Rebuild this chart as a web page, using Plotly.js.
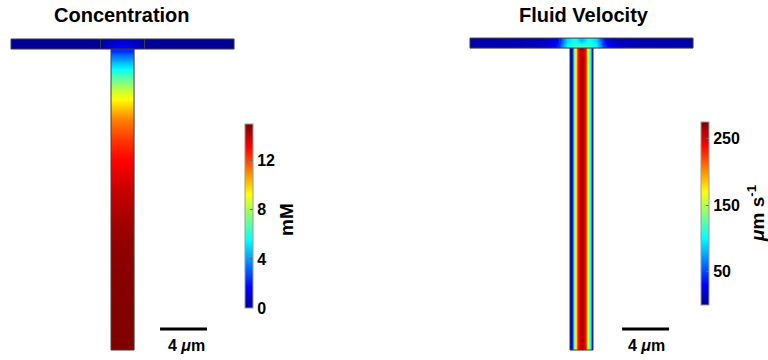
<!DOCTYPE html>
<html><head><meta charset="utf-8">
<script src="https://cdn.plot.ly/plotly-3.0.1.min.js"></script>
<style>html,body{margin:0;padding:0;background:#fff}#chart{width:768px;height:360px}</style>
</head><body><div id="chart"></div>
<script>
// ---------------- data ----------------
// Concentration (mM) in the horizontal channel, positions in µm from the channel centre
const concBarX      = [-9.5, -2.6, -1.87, -1.3, -0.7, 0, 0.7, 1.3, 1.87, 2.6, 9.5];
const concBarTop    = [0.1, 0.1, 0.2, 0.5, 0.8, 0.9, 0.8, 0.5, 0.2, 0.1, 0.1];
const concBarBottom = [0.1, 0.1, 0.3, 0.9, 1.4, 1.7, 1.4, 0.9, 0.3, 0.1, 0.1];
// Concentration (mM) down the vertical channel, depth in µm below the junction
const concStemDepth = [0, 0.77, 1.53, 2.64, 4.09, 6.04, 7.74, 9.45, 11.6, 13.7, 16.3, 18.9, 25.6];
const concStem      = [2.3, 3.8, 5.4, 7.3, 9.3, 11.2, 12.3, 13.1, 13.8, 14.3, 14.7, 14.9, 15.0];
// Fluid velocity (µm/s) in the horizontal channel
const velBarX      = [-9.5, -4, -2.5, -1.87, -1.2, -0.6, 0, 0.6, 1.2, 1.87, 2.5, 4, 9.5];
const velBarTop    = [8, 10, 16, 38, 90, 105, 80, 105, 90, 38, 16, 10, 8];
const velBarBottom = [8, 10, 18, 50, 100, 120, 115, 120, 100, 50, 18, 10, 8];
// Fluid velocity (µm/s) across the vertical channel
const velStemX = [-0.98, -0.85, -0.68, -0.55, -0.43, -0.27, -0.13, 0, 0.13, 0.27, 0.43, 0.55, 0.68, 0.85, 0.98];
const velStem  = [0, 40, 105, 160, 200, 238, 258, 266, 258, 238, 200, 160, 105, 40, 0];
// colour bars
const concTicks = [0, 4, 8, 12];
const velTicks  = [50, 150, 250];
const concRange = [0, 15];
const velRange  = [0, 275];
const scaleBarLength = 4; // µm

// ---------------- geometry / styling ----------------
const W = 768, H = 360, pxPerUm = 11.75;
const panels = [
  {xa: 'x',  ya: 'y',  cx: 10.43, barTop: 3.32, sbX: 13.62},
  {xa: 'x2', ya: 'y2', cx: 16.81, barTop: 3.24, sbX: 20.26}
];
const barH = 0.85, halfBar = 9.49, hw = 0.98, stemBottom = 29.79, junctionHalf = 1.87;
const jet = [[0,'rgb(0,0,143)'],[0.111,'rgb(0,0,255)'],[0.365,'rgb(0,255,255)'],
             [0.619,'rgb(255,255,0)'],[0.873,'rgb(255,0,0)'],[1,'rgb(128,0,0)']];
const FONT = 'Liberation Sans, Arial, sans-serif';

function edges(c, lo, hi) {
  const e = [lo];
  for (let i = 0; i < c.length - 1; i++) e.push((c[i] + c[i + 1]) / 2);
  e.push(hi);
  return e;
}

const traces = [];
function addPanel(p, barX, barTopRow, barBotRow, stemKind, coloraxis) {
  const stemTop = p.barTop + barH;
  traces.push({type: 'heatmap', xaxis: p.xa, yaxis: p.ya, coloraxis,
    x: edges(barX.map(v => p.cx + v), p.cx - halfBar, p.cx + halfBar),
    y: [p.barTop, p.barTop + barH / 2, p.barTop + barH],
    z: [barTopRow, barBotRow], zsmooth: 'best', hoverinfo: 'skip'});
  if (stemKind === 'conc') {
    traces.push({type: 'heatmap', xaxis: p.xa, yaxis: p.ya, coloraxis,
      x: [p.cx - hw, p.cx, p.cx + hw],
      y: edges(concStemDepth.map(d => stemTop + d), stemTop, stemBottom),
      z: concStem.map(v => [v, v]), zsmooth: 'best', hoverinfo: 'skip'});
  } else {
    traces.push({type: 'heatmap', xaxis: p.xa, yaxis: p.ya, coloraxis,
      x: edges(velStemX.map(v => p.cx + v), p.cx - hw, p.cx + hw),
      y: [stemTop, (stemTop + stemBottom) / 2, stemBottom],
      z: [velStem, velStem], zsmooth: 'best', hoverinfo: 'skip'});
  }
  const L = p.cx - halfBar, R = p.cx + halfBar, T = p.barTop, B = stemTop;
  const ox = [L, R, R, L, L, null, p.cx - hw, p.cx - hw, p.cx + hw, p.cx + hw, null,
              p.cx - junctionHalf, p.cx - junctionHalf, null, p.cx + junctionHalf, p.cx + junctionHalf];
  const oy = [T, T, B, B, T, null, B, stemBottom, stemBottom, B, null, T, B, null, T, B];
  traces.push({type: 'scatter', mode: 'lines', xaxis: p.xa, yaxis: p.ya, x: ox, y: oy,
    line: {color: '#3c3c3c', width: 1}, hoverinfo: 'skip', showlegend: false});
}
addPanel(panels[0], concBarX, concBarTop, concBarBottom, 'conc', 'coloraxis');
addPanel(panels[1], velBarX, velBarTop, velBarBottom, 'vel', 'coloraxis2');

function cbar(x, yc, lenPx, ticks) {
  return {x: x / W, xanchor: 'left', xpad: 0, ypad: 0, thickness: 8,
    len: lenPx / H, y: 1 - yc / H, yanchor: 'middle',
    tickvals: ticks, ticks: 'inside', ticklen: 3, tickcolor: '#666', tickwidth: 1,
    tickfont: {family: FONT, size: 16, color: '#000', weight: 'bold'},
    outlinewidth: 1, outlinecolor: '#999'};
}
const ann = (text, x, y, size, extra) => Object.assign({text, x: x / W, y: 1 - y / H,
  xref: 'paper', yref: 'paper', showarrow: false, xanchor: 'center', yanchor: 'middle',
  font: {family: FONT, size, color: '#000'}}, extra || {});

const yr = [H / pxPerUm, 0];
const xr = [0, (W / 2) / pxPerUm];
const layout = {
  width: W, height: H, margin: {l: 0, r: 0, t: 0, b: 0},
  paper_bgcolor: '#fff', plot_bgcolor: '#fff', showlegend: false,
  xaxis:  {domain: [0, 0.5], range: xr, visible: false, fixedrange: true, anchor: 'y'},
  yaxis:  {domain: [0, 1], range: yr, visible: false, fixedrange: true, anchor: 'x'},
  xaxis2: {domain: [0.5, 1], range: xr, visible: false, fixedrange: true, anchor: 'y2'},
  yaxis2: {domain: [0, 1], range: yr, visible: false, fixedrange: true, anchor: 'x2'},
  coloraxis:  {colorscale: jet, cmin: concRange[0], cmax: concRange[1], colorbar: cbar(245, 216, 184, concTicks)},
  coloraxis2: {colorscale: jet, cmin: velRange[0], cmax: velRange[1], colorbar: cbar(701, 213.5, 183, velTicks)},
  shapes: panels.map(p => ({type: 'line', xref: p.xa, yref: p.ya,
    x0: p.sbX, x1: p.sbX + scaleBarLength, y0: 28.0, y1: 28.0, line: {color: '#000', width: 3}})),
  annotations: [
    ann('<b>Concentration</b>', 122, 15, 20),
    ann('<b>Fluid Velocity</b>', 584, 15, 20),
    ann('<b>mM</b>', 286, 220, 19, {textangle: -90}),
    ann('<b><i>μ</i>m s<sup>-1</sup></b>', 756, 213, 19, {textangle: -90}),
    ann('<b>4 <i>μ</i>m</b>', 186, 345, 16),
    ann('<b>4 <i>μ</i>m</b>', 646, 345, 16)
  ]
};
Plotly.newPlot('chart', traces, layout, {staticPlot: true, displayModeBar: false});
</script>
</body></html>
